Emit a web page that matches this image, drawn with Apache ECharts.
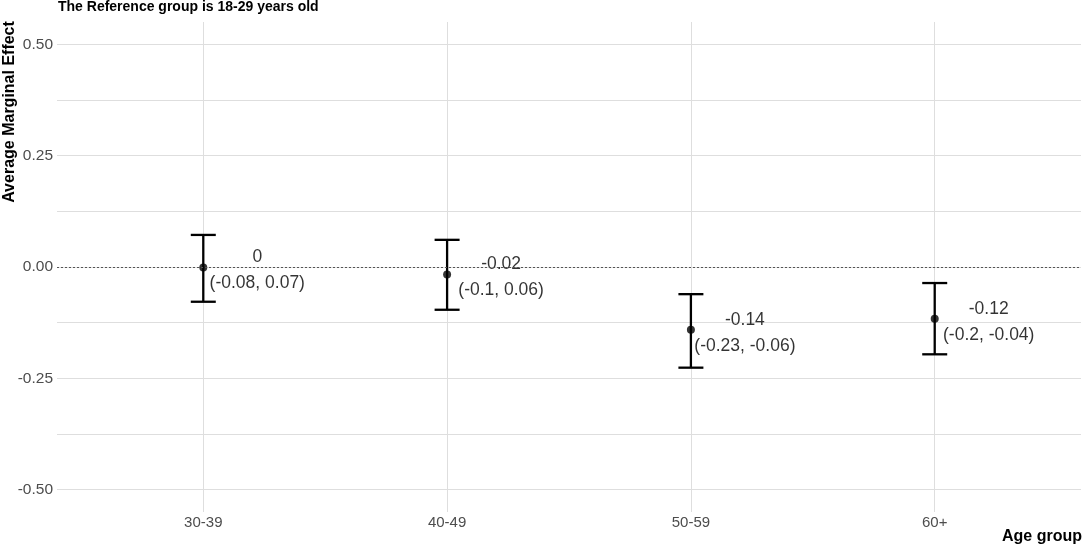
<!DOCTYPE html>
<html>
<head>
<meta charset="utf-8">
<script src="https://cdn.jsdelivr.net/npm/echarts@6/dist/echarts.min.js"></script>
<style>
html,body{margin:0;padding:0;background:#fff;}
#chart{width:1084px;height:548px;}
</style>
</head>
<body>
<div id="chart"></div>
<script>
const categories = ['30-39', '40-49', '50-59', '60+'];
const estimates = [-0.001, -0.017, -0.141, -0.116];
const lowerCI = [-0.078, -0.096, -0.226, -0.196];
const upperCI = [0.072, 0.061, -0.061, -0.036];
const yTickValues = [-0.5, -0.25, 0, 0.25, 0.5];
const yGridValues = [-0.5, -0.375, -0.25, -0.125, 0, 0.125, 0.25, 0.375, 0.5];
const titleText = 'The Reference group is 18-29 years old';
const yTitle = 'Average Marginal Effect';
const xTitle = 'Age group';

const FONT = '"Liberation Sans", Arial, sans-serif';
function fmt(v) { const r = Math.round(v * 100) / 100; return String(r === 0 ? 0 : r); }
const xPos = categories.map((c, i) => i + 1);

const chart = echarts.init(document.getElementById('chart'), null, {renderer: 'canvas'});
const option = {
  backgroundColor: '#ffffff',
  animation: false,
  grid: {left: 57, right: 3, top: 22, bottom: 36, containLabel: false},
  xAxis: {
    type: 'value', min: 0.4, max: 4.6,
    axisLine: {show: false},
    axisTick: {show: false, customValues: xPos},
    axisLabel: {customValues: xPos, formatter: v => categories[Math.round(v) - 1] || '',
      color: '#4d4d4d', fontSize: 15, fontFamily: FONT, margin: 3},
    splitLine: {show: true, lineStyle: {color: '#dedede', width: 1}}
  },
  yAxis: {
    type: 'value', min: -0.55, max: 0.55,
    axisLine: {show: false},
    axisTick: {show: false, customValues: yGridValues},
    axisLabel: {customValues: yTickValues, formatter: v => v.toFixed(2),
      color: '#4d4d4d', fontSize: 15.5, fontFamily: FONT, margin: 4},
    splitLine: {show: true, lineStyle: {color: '#dedede', width: 1}}
  },
  graphic: [
    {type: 'text', left: 58, top: 0, style: {text: titleText, font: 'bold 14px ' + FONT, fill: '#000'}},
    {type: 'text', x: 10, y: 112, rotation: Math.PI / 2,
      style: {text: yTitle, font: 'bold 16px ' + FONT, fill: '#000', align: 'center', verticalAlign: 'middle'}},
    {type: 'text', right: 2, top: 529, style: {text: xTitle, font: 'bold 16px ' + FONT, fill: '#000'}}
  ],
  series: [
    {
      type: 'line', data: [], silent: true,
      markLine: {
        symbol: ['none', 'none'], silent: true, label: {show: false},
        lineStyle: {color: '#555', type: [2, 2], width: 1},
        data: [{yAxis: 0}]
      }
    },
    {
      type: 'custom',
      renderItem: function (params, api) {
        const x = api.value(0);
        const lo = api.coord([x, api.value(1)]);
        const hi = api.coord([x, api.value(2)]);
        const w = 12.5;
        const style = {stroke: '#000', lineWidth: 2.3, fill: null};
        return {type: 'group', children: [
          {type: 'line', shape: {x1: lo[0], y1: lo[1], x2: hi[0], y2: hi[1]}, style: style},
          {type: 'line', shape: {x1: lo[0] - w, y1: lo[1], x2: lo[0] + w, y2: lo[1]}, style: style},
          {type: 'line', shape: {x1: hi[0] - w, y1: hi[1], x2: hi[0] + w, y2: hi[1]}, style: style}
        ]};
      },
      encode: {x: 0, y: [1, 2]},
      data: xPos.map((x, i) => [x, lowerCI[i], upperCI[i]]),
      z: 3
    },
    {
      type: 'scatter',
      symbol: 'circle', symbolSize: 8,
      itemStyle: {color: '#000'},
      data: xPos.map((x, i) => [x, estimates[i]]),
      label: {
        show: true, position: 'inside', offset: [54, 3],
        align: 'center', verticalAlign: 'middle',
        fontSize: 17.5, lineHeight: 26, fontFamily: FONT, color: '#000',
        formatter: p => fmt(estimates[p.dataIndex]) + '\n(' + fmt(lowerCI[p.dataIndex]) + ', ' + fmt(upperCI[p.dataIndex]) + ')'
      },
      z: 4
    }
  ]
};
chart.setOption(option);
</script>
</body>
</html>
